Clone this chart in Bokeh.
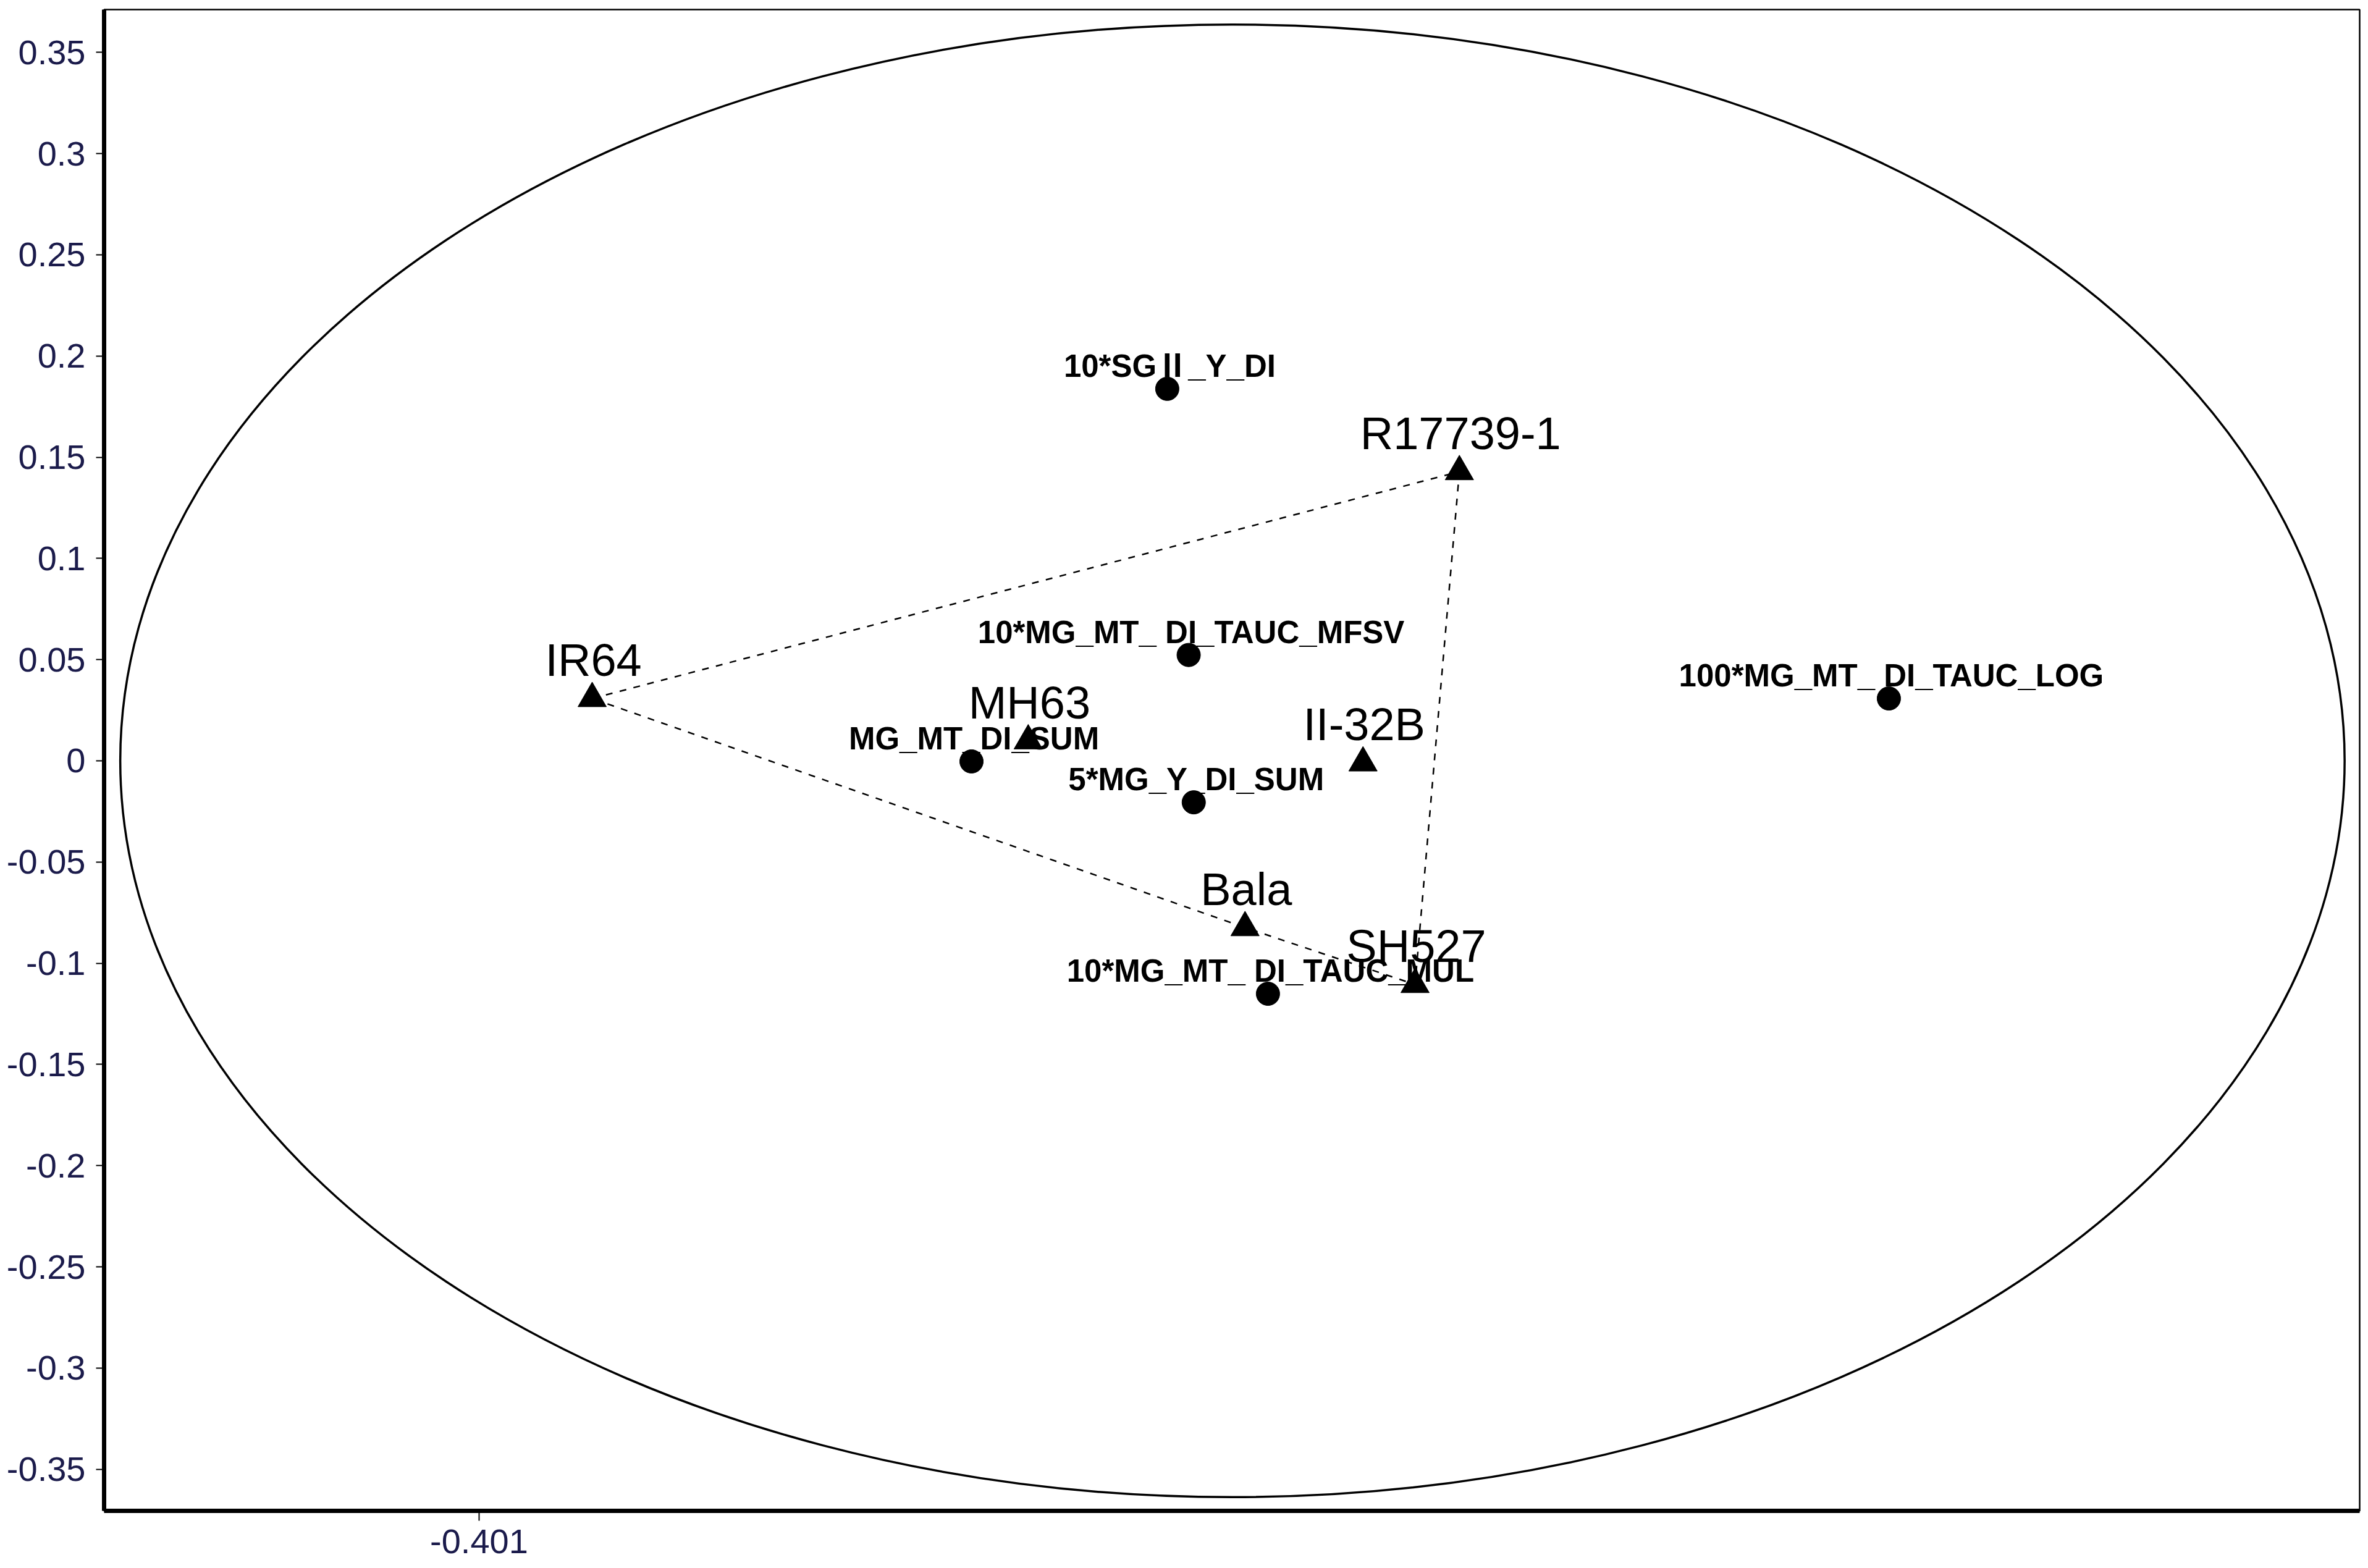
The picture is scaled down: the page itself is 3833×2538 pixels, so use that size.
from bokeh.plotting import figure
from bokeh.models import FixedTicker, Range1d, ColumnDataSource
from bokeh.core.properties import value
from bokeh.embed import file_html
from bokeh.resources import INLINE

# ---- data ----
genotypes = ["IR64", "MH63", "II-32B", "R17739-1", "Bala", "SH527"]
geno_x = [-0.3408, -0.1087, 0.0695, 0.1208, 0.0067, 0.0972]
geno_y = [0.0308, 0.0099, -0.0010, 0.1429, -0.0824, -0.1105]

traits = ["10*SGⅡ_Y_DI", "10*MG_MT_ DI_TAUC_MFSV", "MG_MT_DI_SUM",
          "5*MG_Y_DI_SUM", "10*MG_MT_ DI_TAUC_MUL", "100*MG_MT_ DI_TAUC_LOG"]
trait_x = [-0.0347, -0.0233, -0.1389, -0.0206, 0.0189, 0.3494]
trait_y = [0.1838, 0.0523, -0.0003, -0.0205, -0.1151, 0.0308]

hull_order = ["IR64", "R17739-1", "SH527", "Bala", "IR64"]

ellipse_cx = 0.0
ellipse_cy = 0.0
ellipse_w = 1.184
ellipse_h = 0.7276

y_ticks = [0.35, 0.3, 0.25, 0.2, 0.15, 0.1, 0.05, 0.0,
           -0.05, -0.1, -0.15, -0.2, -0.25, -0.3, -0.35]
y_tick_labels = ["0.35", "0.3", "0.25", "0.2", "0.15", "0.1", "0.05", "0",
                 "-0.05", "-0.1", "-0.15", "-0.2", "-0.25", "-0.3", "-0.35"]
y_minor_ticks = [round(-0.3625 + 0.0125 * i, 4) for i in range(59)]
x_ticks = [-0.401]
x_tick_labels = ["-0.401"]

x_lo, x_hi = -0.6006, 0.6
y_lo, y_hi = -0.37057, 0.37118

tick_color = "#1b1b4b"

p = figure(width=3833, height=2538, output_backend="svg", toolbar_location=None,
           x_range=Range1d(x_lo, x_hi), y_range=Range1d(y_lo, y_hi),
           min_border_left=168, min_border_right=14, min_border_top=15,
           min_border_bottom=93)
p.background_fill_color = "white"
p.border_fill_color = "white"
p.outline_line_color = "black"
p.outline_line_width = 2.5
p.grid.visible = False

# axes
p.yaxis.ticker = FixedTicker(ticks=y_ticks, minor_ticks=y_minor_ticks)
p.yaxis.major_label_overrides = {t: l for t, l in zip(y_ticks, y_tick_labels)}
p.xaxis.ticker = FixedTicker(ticks=x_ticks, minor_ticks=[])
p.xaxis.major_label_overrides = {t: l for t, l in zip(x_ticks, x_tick_labels)}
for ax in (p.xaxis[0], p.yaxis[0]):
    ax.axis_line_width = 7
    ax.axis_line_color = "black"
    ax.major_tick_line_color = "black"
    ax.major_tick_line_width = 2
    ax.major_tick_in = 0
    ax.minor_tick_in = 0
    ax.minor_tick_line_color = "black"
    ax.minor_tick_line_width = 1.5
    ax.major_label_text_font = "Liberation Sans"
    ax.major_label_text_font_size = "56px"
    ax.major_label_text_color = tick_color
p.yaxis.major_tick_out = 13
p.yaxis.minor_tick_out = 3
p.yaxis.major_label_standoff = 17
p.xaxis.major_tick_out = 16
p.xaxis.minor_tick_out = 0
p.xaxis.major_label_standoff = 14

# ellipse
p.ellipse(x=[ellipse_cx], y=[ellipse_cy], width=[ellipse_w], height=[ellipse_h],
          fill_color=None, line_color="black", line_width=3.5)

# dashed polygon joining outermost genotypes
gidx = {g: i for i, g in enumerate(genotypes)}
p.line(x=[geno_x[gidx[g]] for g in hull_order], y=[geno_y[gidx[g]] for g in hull_order],
       line_color="black", line_width=2.5, line_dash="11 12")

gsrc = ColumnDataSource(dict(x=geno_x, y=geno_y, name=genotypes))
tsrc = ColumnDataSource(dict(x=trait_x, y=trait_y, name=traits))

p.scatter(x="x", y="y", source=tsrc, marker="circle", size=38,
          fill_color="black", line_color="black")
p.scatter(x="x", y="y", source=gsrc, marker="triangle", size=46,
          fill_color="black", line_color="black")

p.text(x="x", y="y", text="name", source=gsrc, x_offset=2, y_offset=-62,
       text_align="center", text_baseline="alphabetic",
       text_font=value("Liberation Sans"), text_font_size="74px", text_color="black")
p.text(x="x", y="y", text="name", source=tsrc, x_offset=4, y_offset=-37,
       text_align="center", text_baseline="alphabetic",
       text_font=value("Liberation Sans, Noto Sans CJK SC"), text_font_style="bold",
       text_font_size="51px", text_color="black")

open("out.html", "w").write(file_html(p, INLINE))
